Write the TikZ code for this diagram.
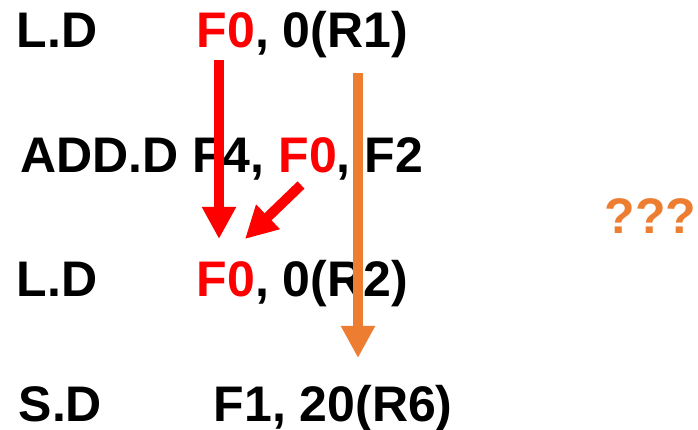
\documentclass[tikz,border=0pt]{standalone}
\usepackage{fontspec}
\setmainfont{Liberation Sans}
\usetikzlibrary{arrows.meta}
\definecolor{aorange}{HTML}{ED7D31}
\definecolor{ared}{HTML}{FF0000}
\begin{document}
\begin{tikzpicture}[x=1pt,y=1pt,
  txt/.style={anchor=base west,inner sep=0pt,font=\fontsize{50}{60}\selectfont\bfseries},
  fat/.style={line width=10pt,line cap=butt,-{Triangle[length=32pt,width=32pt]}}]
\fill[white] (0,0) rectangle (698,430);
\useasboundingbox (0,0) rectangle (698,430);
% line 1
\node[txt] (l1op) at (16.5,382) {L.D};
\node[txt] (l1arg) at (196.5,382) {\textcolor{ared}{F0}, 0(R1)};
% line 2
\node[txt] (l2) at (20,257) {ADD.D F4, \textcolor{ared}{F0}, F2};
% line 3
\node[txt] (l3op) at (16.5,133) {L.D};
\node[txt] (l3arg) at (196.5,133) {\textcolor{ared}{F0}, 0(R2)};
% line 4
\node[txt] (l4op) at (18.5,8) {S.D};
\node[txt] (l4arg) at (213.5,8) {F1, 20(R6)};
% ???
\node[txt,text=aorange] (q) at (604.5,196) {???};
% arrows
\coordinate (a1s) at (219,370);
\coordinate (a1e) at (219,191);
\coordinate (a2s) at (301,245);
\coordinate (a2e) at (245,191);
\coordinate (a3s) at (358,357);
\coordinate (a3e) at (358,72);
\draw[fat,draw=aorange,fill=aorange] (a3s) -- (a3e);
\draw[fat,draw=ared,fill=ared] (a1s) -- (a1e);
\draw[fat,draw=ared,fill=ared] (a2s) -- (a2e);
\end{tikzpicture}
\end{document}
